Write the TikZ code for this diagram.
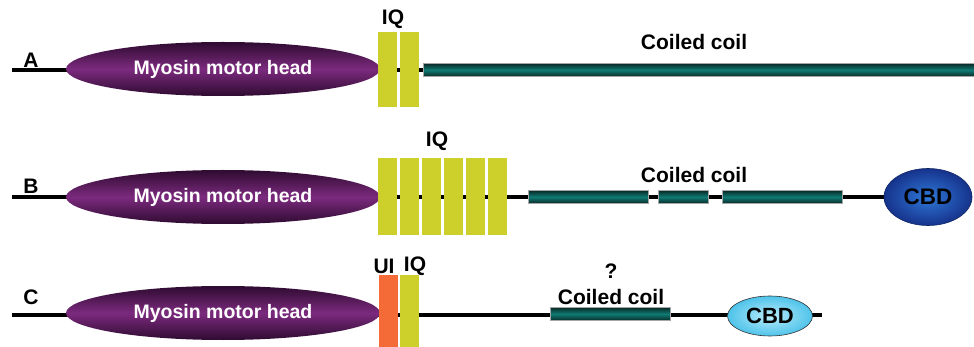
\documentclass[tikz,border=0pt]{standalone}
\usepackage{fontspec}
\setmainfont{Liberation Sans}
\usetikzlibrary{shapes.geometric,backgrounds}
\definecolor{iqyellow}{HTML}{CDCF2B}
\definecolor{uiorange}{HTML}{F46B38}
\definecolor{headmid}{HTML}{7C2A7E}
\definecolor{headdark}{HTML}{2E0B30}
\definecolor{tealmid}{HTML}{0F7A74}
\definecolor{tealdark}{HTML}{082A28}
\definecolor{cbdblue}{HTML}{2F78D8}
\definecolor{cbddark}{HTML}{16338C}
\definecolor{cbdlight}{HTML}{B8ECFA}
\definecolor{cbdcyan}{HTML}{4FC3EA}
\tikzset{
  lbl/.style={font=\fontsize{21}{24}\selectfont\bfseries, inner sep=0pt},
  backbone/.style={line width=4.5pt, black},
  motorhead/.style={ellipse, minimum width=314pt, minimum height=54pt, inner sep=0pt,
    top color=headdark, bottom color=headdark, middle color=headmid,
    text=white, font=\fontsize{19.5}{22}\selectfont\bfseries},
  iqbox/.style={rectangle, minimum width=19pt, minimum height=75pt, inner sep=0pt, fill=iqyellow},
  uibox/.style={iqbox, fill=uiorange},
  coil/.style={rectangle, inner sep=0pt, minimum height=13pt, draw=gray!70, line width=0.6pt,
    top color=tealdark, bottom color=tealdark, middle color=tealmid},
  cbdB/.style={ellipse, minimum width=88pt, minimum height=57pt, inner sep=0pt, draw=cbddark!70!black, line width=0.6pt,
    inner color=cbdblue, outer color=cbddark, font=\fontsize{22.5}{26}\selectfont\bfseries},
  cbdC/.style={ellipse, minimum width=85pt, minimum height=40pt, inner sep=0pt, draw=black!80, line width=0.6pt,
    inner color=cbdlight, outer color=cbdcyan, font=\fontsize{22}{26}\selectfont\bfseries},
}
\begin{document}
\begin{tikzpicture}[x=1pt,y=-1pt]
\useasboundingbox (0,0) rectangle (974,347);
% ---------------- Row A ----------------
\coordinate (aL) at (12,70);
\coordinate (aR) at (440,70);
\node[motorhead] (aHead) at (223,69) {Myosin motor head};
\node[iqbox] (aIQ1) at (387.5,70) {};
\node[iqbox] (aIQ2) at (409,70) {};
\node[coil, minimum width=560pt, anchor=west] (aCoil) at (423,70) {};
\node[lbl] (aLab) at (31,60) {A};
\node[lbl] (aIQlab) at (393,19) {IQ};
\node[lbl] (aCClab) at (694,42) {Coiled coil};
% ---------------- Row B ----------------
\coordinate (bL) at (12,197);
\node[motorhead] (bHead) at (223,197) {Myosin motor head};
\node[cbdB] (bCBD) at (928,197) {CBD};
\foreach \i/\x in {1/387.5,2/409.5,3/431.5,4/453.5,5/475.5,6/497.5}{
  \node[iqbox, minimum height=77pt] (bIQ\i) at (\x,197) {};
}
\node[coil, minimum width=120pt] (bCoil1) at (588,197) {};
\node[coil, minimum width=50pt] (bCoil2) at (683,197) {};
\node[coil, minimum width=120pt] (bCoil3) at (782,197) {};
\node[lbl] (bLab) at (31,186) {B};
\node[lbl] (bIQlab) at (437,141) {IQ};
\node[lbl] (bCClab) at (694,175) {Coiled coil};
% ---------------- Row C ----------------
\coordinate (cL) at (12,315);
\coordinate (cR) at (822,315);
\node[motorhead] (cHead) at (223,313) {Myosin motor head};
\node[uibox] (cUI) at (388,313) {};
\node[iqbox] (cIQ) at (409.5,313) {};
\node[coil, minimum width=120pt] (cCoil) at (610,314) {};
\node[cbdC] (cCBD) at (770,316) {CBD};
\node[lbl] (cLab) at (31,297) {C};
\node[lbl] (cUIlab) at (384,266) {UI};
\node[lbl] (cIQlab) at (415,266) {IQ};
\node[lbl] (cQ) at (611,271) {?};
\node[lbl] (cCClab) at (611,297) {Coiled coil};
% ---------------- backbones behind everything ----------------
\begin{pgfonlayer}{background}
\draw[backbone] (aL) -- (aR);
\draw[backbone] (bL) -- (bCBD.west);
\draw[backbone] (cL) -- (cR);
\end{pgfonlayer}
\end{tikzpicture}
\end{document}
